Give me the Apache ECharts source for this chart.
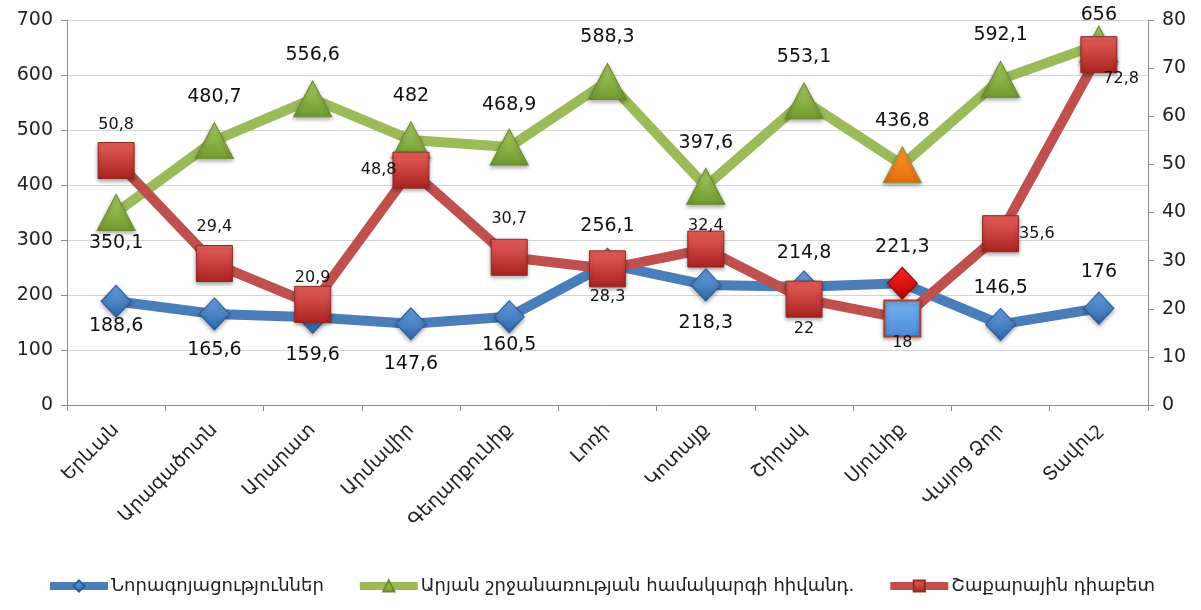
<!DOCTYPE html>
<html>
<head>
<meta charset="utf-8">
<script src="https://cdn.jsdelivr.net/npm/echarts@6/dist/echarts.min.js"></script>
<style>
  html, body { margin: 0; padding: 0; background: #fff; }
  #chart { width: 1201px; height: 610px; }
</style>
</head>
<body>
<div id="chart"></div>
<script>
// regions
var regions = ['Երևան', 'Արագածոտն', 'Արարատ', 'Արմավիր', 'Գեղարքունիք', 'Լոռի', 'Կոտայք', 'Շիրակ', 'Սյունիք', 'Վայոց Ձոր', 'Տավուշ'];

var seriesNames = ['Նորագոյացություններ', 'Արյան շրջանառության համակարգի հիվանդ.', 'Շաքարային դիաբետ'];

var tumours = [188.6, 165.6, 159.6, 147.6, 160.5, 256.1, 218.3, 214.8, 221.3, 146.5, 176];
var circulatory = [350.1, 480.7, 556.6, 482, 468.9, 588.3, 397.6, 553.1, 436.8, 592.1, 656];
var diabetes = [50.8, 29.4, 20.9, 48.8, 30.7, 28.3, 32.4, 22, 18, 35.6, 72.8];

var leftTicks = [0, 700, 100];
var rightTicks = [0, 80, 10];

// where each value label sits
var tumoursPos = ['bottom', 'bottom', 'bottom', 'bottom', 'bottom', 'top', 'bottom', 'top', 'top', 'top', 'top'];
var tumoursDist = [-1, 10, 12, 14, 2, 12, 12, 8, 10, 10, 10];
var circPos = ['bottom', 'top', 'top', 'top', 'top', 'top', 'top', 'top', 'top', 'top', 'top'];
var circDist = [3, 16, 16, 16, 14, 16, 15, 16, 16, 16, 1];
var diabPos = ['top', 'top', 'top', 'left', 'top', 'bottom', 'top', 'bottom', 'bottom', 'right', 'right'];
var diabDist = [9, 10, 0, -4, 12, 2, -3, 3, -3, 0, 0];

var highlight = 8; // Syunik

var FONT = 'DejaVu Sans';

function grad(top, bottom) {
  return new echarts.graphic.LinearGradient(0, 0, 0, 1, [
    { offset: 0, color: top },
    { offset: 1, color: bottom }
  ]);
}

function fmt(p) {
  return String(p.value).replace('.', ',');
}

function buildData(values, pos, dist, special) {
  return values.map(function (v, i) {
    var d = {
      value: v,
      label: { position: pos[i], distance: dist[i] }
    };
    if (i === values.length - 1 && pos[i] === 'right' && values === diabetes) {
      d.label.offset = [-14, 24];
    }
    if (i === highlight && special) d.itemStyle = special;
    return d;
  });
}

var chart = echarts.init(document.getElementById('chart'));

chart.setOption({
  animation: false,
  textStyle: { fontFamily: FONT },
  grid: { left: 67, right: 53, top: 20, bottom: 205 },
  legend: {
    bottom: 10,
    left: 'center',
    itemWidth: 58,
    itemHeight: 14,
    itemGap: 32,
    lineStyle: { width: 8 },
    textStyle: { fontSize: 18, color: '#222', fontFamily: FONT, padding: [0, 0, 0, -2] },
    data: seriesNames
  },
  xAxis: {
    type: 'category',
    data: regions,
    boundaryGap: true,
    axisLine: { lineStyle: { color: '#8c8c8c', width: 1 } },
    axisTick: { show: true, length: 6, lineStyle: { color: '#8c8c8c' } },
    axisLabel: { rotate: 45, fontSize: 19, color: '#222', margin: 22, interval: 0 }
  },
  yAxis: [
    {
      type: 'value',
      min: leftTicks[0], max: leftTicks[1], interval: leftTicks[2],
      axisLine: { show: true, lineStyle: { color: '#8c8c8c' } },
      axisTick: { show: true, length: 6, lineStyle: { color: '#8c8c8c' } },
      axisLabel: { fontSize: 19, color: '#222', margin: 14 },
      splitLine: { lineStyle: { color: '#d4d4d4', width: 1.2 } }
    },
    {
      type: 'value',
      min: rightTicks[0], max: rightTicks[1], interval: rightTicks[2],
      axisLine: { show: true, lineStyle: { color: '#8c8c8c' } },
      axisTick: { show: true, length: 6, lineStyle: { color: '#8c8c8c' } },
      axisLabel: { fontSize: 19, color: '#222', margin: 14 },
      splitLine: { show: false }
    }
  ],
  series: [
    {
      name: seriesNames[0],
      type: 'line',
      yAxisIndex: 0,
      data: buildData(tumours, tumoursPos, tumoursDist, { color: grad('#ff2a2a', '#b80000'), borderColor: '#9a0000' }),
      symbol: 'diamond',
      symbolSize: [30, 32],
      lineStyle: { color: '#4a7ebb', width: 10 },
      itemStyle: {
        color: grad('#6aa2e4', '#2c65aa'),
        borderColor: '#2a5c9a', borderWidth: 1,
        shadowBlur: 4, shadowColor: 'rgba(0,0,0,0.35)', shadowOffsetY: 2
      },
      label: { show: true, formatter: fmt, fontSize: 19, color: '#111' },
      z: 2
    },
    {
      name: seriesNames[1],
      type: 'line',
      yAxisIndex: 0,
      data: buildData(circulatory, circPos, circDist, { color: grad('#ff9a30', '#e46c0a'), borderColor: '#7e9a3d' }),
      symbol: 'triangle',
      symbolSize: [38, 36],
      lineStyle: { color: '#9bbb59', width: 10 },
      itemStyle: {
        color: grad('#a9cd62', '#6f9a2e'),
        borderColor: '#6a8a30', borderWidth: 1,
        shadowBlur: 4, shadowColor: 'rgba(0,0,0,0.35)', shadowOffsetY: 2
      },
      label: { show: true, formatter: fmt, fontSize: 19, color: '#111' },
      z: 3
    },
    {
      name: seriesNames[2],
      type: 'line',
      yAxisIndex: 1,
      data: buildData(diabetes, diabPos, diabDist, { color: grad('#7ab4f0', '#4a8ad6'), borderColor: '#b03a36', borderWidth: 2 }),
      symbol: 'rect',
      symbolSize: 36,
      lineStyle: { color: '#c0504d', width: 10 },
      itemStyle: {
        color: grad('#e8605c', '#a8221f'),
        borderColor: '#8f2a27', borderWidth: 1,
        shadowBlur: 4, shadowColor: 'rgba(0,0,0,0.35)', shadowOffsetY: 2
      },
      label: { show: true, formatter: fmt, fontSize: 16, color: '#111' },
      z: 4
    }
  ]
});
</script>
</body>
</html>
